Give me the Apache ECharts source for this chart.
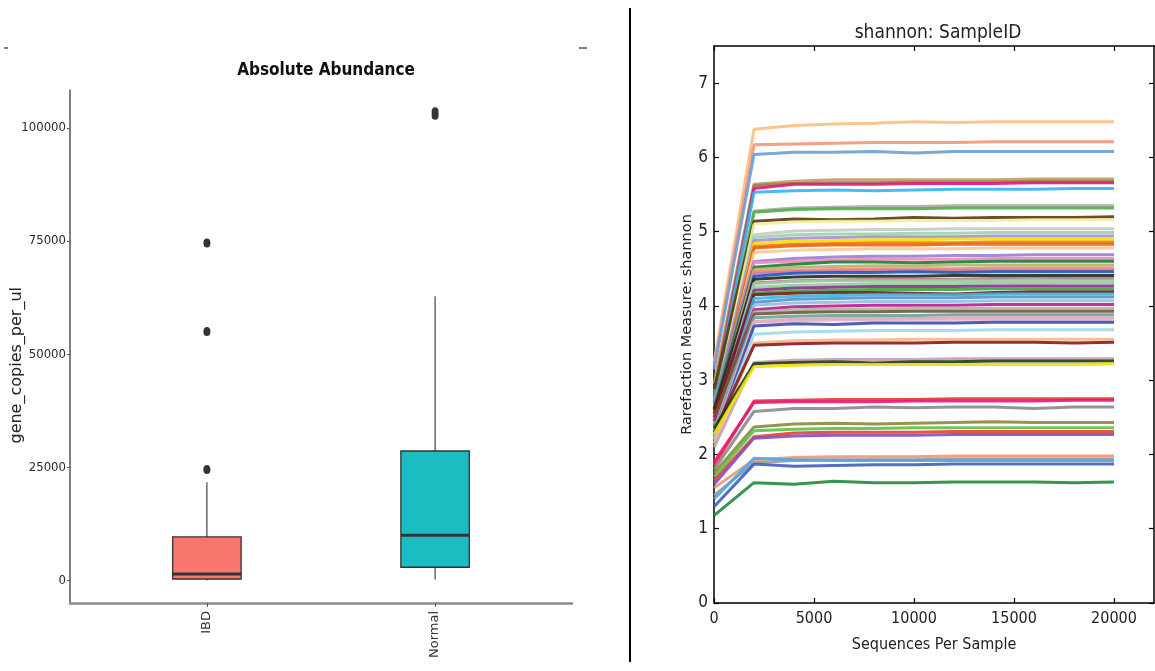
<!DOCTYPE html>
<html>
<head>
<meta charset="utf-8">
<script src="https://cdn.jsdelivr.net/npm/echarts@6/dist/echarts.min.js"></script>
<style>
html,body{margin:0;padding:0;background:#fff;}
#chart{width:1155px;height:671px;}
</style>
</head>
<body>
<div id="chart"></div>
<script>
// ---------- Left panel: Absolute Abundance (box plot) ----------
const boxCategories = ['IBD', 'Normal'];
// [min whisker, Q1, median, Q3, max whisker]
const ibdBox = [0, 300, 1400, 9600, 21700];
const normalBox = [200, 2900, 10000, 28600, 62800];
const ibdOutliers = [24500, 55000, 74600];
const normalOutliers = [102800, 103600];
const abundanceTicks = [0, 25000, 50000, 75000, 100000];

// ---------- Right panel: shannon rarefaction ----------
const depths = [10, 2000, 4000, 6000, 8000, 10000, 12000, 14000, 16000, 18000, 20000];
const depthTicks = [0, 5000, 10000, 15000, 20000];
const shannonTicks = [0, 1, 2, 3, 4, 5, 6, 7];
const shannonCurves = [
  [3.25, 6.38, 6.43, 6.45, 6.46, 6.48, 6.47, 6.48, 6.48, 6.48, 6.48],
  [3.20, 6.17, 6.18, 6.19, 6.20, 6.20, 6.20, 6.21, 6.21, 6.21, 6.21],
  [3.15, 6.04, 6.07, 6.07, 6.08, 6.06, 6.08, 6.08, 6.08, 6.08, 6.08],
  [2.95, 5.64, 5.68, 5.70, 5.70, 5.70, 5.70, 5.70, 5.71, 5.71, 5.71],
  [2.85, 5.62, 5.65, 5.66, 5.66, 5.67, 5.67, 5.67, 5.68, 5.68, 5.68],
  [2.80, 5.58, 5.64, 5.64, 5.64, 5.65, 5.65, 5.65, 5.66, 5.66, 5.66],
  [2.75, 5.53, 5.55, 5.56, 5.55, 5.56, 5.57, 5.57, 5.57, 5.58, 5.58],
  [2.70, 5.28, 5.32, 5.33, 5.34, 5.34, 5.35, 5.35, 5.35, 5.35, 5.35],
  [2.72, 5.26, 5.30, 5.31, 5.31, 5.31, 5.32, 5.32, 5.32, 5.32, 5.32],
  [2.88, 5.14, 5.17, 5.16, 5.17, 5.19, 5.18, 5.19, 5.19, 5.19, 5.20],
  [2.60, 5.10, 5.13, 5.14, 5.14, 5.15, 5.15, 5.15, 5.16, 5.16, 5.16],
  [2.62, 4.96, 5.01, 5.02, 5.03, 5.03, 5.04, 5.04, 5.04, 5.04, 5.04],
  [2.55, 4.92, 4.96, 4.97, 4.97, 4.98, 4.98, 4.99, 4.99, 4.99, 4.99],
  [2.66, 4.88, 4.91, 4.92, 4.93, 4.93, 4.93, 4.94, 4.94, 4.94, 4.94],
  [2.50, 4.84, 4.87, 4.88, 4.89, 4.89, 4.90, 4.90, 4.90, 4.90, 4.90],
  [2.60, 4.80, 4.83, 4.84, 4.85, 4.85, 4.85, 4.86, 4.86, 4.86, 4.86],
  [2.56, 4.78, 4.81, 4.82, 4.82, 4.82, 4.83, 4.83, 4.83, 4.83, 4.83],
  [2.48, 4.72, 4.75, 4.76, 4.77, 4.77, 4.77, 4.78, 4.78, 4.78, 4.78],
  [2.70, 4.60, 4.64, 4.66, 4.67, 4.67, 4.68, 4.68, 4.69, 4.69, 4.69],
  [2.54, 4.58, 4.60, 4.62, 4.63, 4.63, 4.63, 4.64, 4.64, 4.64, 4.64],
  [2.62, 4.52, 4.56, 4.59, 4.59, 4.58, 4.59, 4.60, 4.60, 4.60, 4.60],
  [2.45, 4.49, 4.52, 4.53, 4.54, 4.54, 4.55, 4.55, 4.55, 4.55, 4.55],
  [2.50, 4.46, 4.48, 4.49, 4.50, 4.50, 4.50, 4.51, 4.51, 4.51, 4.51],
  [2.48, 4.44, 4.46, 4.47, 4.48, 4.48, 4.48, 4.48, 4.48, 4.48, 4.48],
  [2.40, 4.40, 4.44, 4.45, 4.45, 4.46, 4.45, 4.46, 4.46, 4.46, 4.46],
  [2.60, 4.36, 4.39, 4.40, 4.40, 4.40, 4.41, 4.41, 4.41, 4.41, 4.41],
  [2.45, 4.31, 4.34, 4.35, 4.36, 4.36, 4.36, 4.37, 4.37, 4.37, 4.37],
  [2.42, 4.30, 4.33, 4.34, 4.34, 4.34, 4.34, 4.34, 4.35, 4.34, 4.34],
  [2.40, 4.25, 4.28, 4.29, 4.30, 4.30, 4.30, 4.31, 4.31, 4.31, 4.31],
  [2.50, 4.21, 4.24, 4.25, 4.26, 4.26, 4.26, 4.27, 4.27, 4.27, 4.27],
  [2.35, 4.17, 4.20, 4.21, 4.22, 4.22, 4.22, 4.23, 4.23, 4.23, 4.23],
  [2.55, 4.15, 4.17, 4.18, 4.18, 4.17, 4.16, 4.18, 4.19, 4.19, 4.19],
  [2.30, 4.10, 4.13, 4.14, 4.15, 4.15, 4.15, 4.16, 4.16, 4.16, 4.16],
  [2.35, 4.05, 4.09, 4.10, 4.11, 4.11, 4.11, 4.12, 4.12, 4.12, 4.12],
  [2.30, 4.01, 4.04, 4.05, 4.06, 4.06, 4.06, 4.07, 4.07, 4.07, 4.07],
  [2.45, 3.95, 3.99, 4.00, 4.01, 4.01, 4.01, 4.02, 4.02, 4.02, 4.02],
  [2.32, 3.92, 3.95, 3.96, 3.96, 3.97, 3.97, 3.97, 3.97, 3.97, 3.97],
  [2.50, 3.89, 3.91, 3.92, 3.92, 3.93, 3.93, 3.93, 3.93, 3.93, 3.93],
  [2.30, 3.84, 3.86, 3.87, 3.87, 3.87, 3.88, 3.88, 3.88, 3.88, 3.88],
  [2.25, 3.79, 3.82, 3.83, 3.83, 3.83, 3.84, 3.84, 3.84, 3.84, 3.84],
  [2.22, 3.78, 3.80, 3.81, 3.81, 3.82, 3.82, 3.82, 3.82, 3.82, 3.82],
  [2.20, 3.73, 3.76, 3.75, 3.77, 3.77, 3.77, 3.78, 3.78, 3.78, 3.78],
  [2.20, 3.62, 3.65, 3.66, 3.67, 3.67, 3.67, 3.68, 3.68, 3.68, 3.68],
  [2.15, 3.50, 3.53, 3.54, 3.54, 3.55, 3.55, 3.55, 3.55, 3.55, 3.55],
  [2.30, 3.47, 3.49, 3.50, 3.50, 3.50, 3.51, 3.51, 3.51, 3.50, 3.51],
  [2.10, 3.24, 3.27, 3.28, 3.28, 3.28, 3.29, 3.29, 3.29, 3.29, 3.29],
  [2.35, 3.22, 3.24, 3.25, 3.23, 3.25, 3.25, 3.26, 3.26, 3.26, 3.26],
  [2.28, 3.18, 3.20, 3.21, 3.21, 3.21, 3.21, 3.21, 3.21, 3.21, 3.22],
  [1.85, 2.72, 2.73, 2.74, 2.74, 2.74, 2.75, 2.75, 2.75, 2.75, 2.75],
  [1.90, 2.70, 2.71, 2.71, 2.71, 2.72, 2.72, 2.72, 2.72, 2.73, 2.73],
  [1.80, 2.58, 2.62, 2.62, 2.64, 2.63, 2.64, 2.64, 2.62, 2.64, 2.64],
  [1.75, 2.37, 2.41, 2.42, 2.41, 2.42, 2.43, 2.44, 2.43, 2.43, 2.43],
  [1.70, 2.32, 2.34, 2.35, 2.35, 2.36, 2.36, 2.36, 2.36, 2.36, 2.36],
  [1.65, 2.24, 2.29, 2.30, 2.30, 2.30, 2.31, 2.31, 2.31, 2.31, 2.31],
  [1.60, 2.22, 2.25, 2.26, 2.26, 2.26, 2.27, 2.27, 2.27, 2.27, 2.27],
  [1.55, 1.93, 1.96, 1.97, 1.97, 1.97, 1.98, 1.98, 1.98, 1.98, 1.98],
  [1.45, 1.89, 1.92, 1.93, 1.93, 1.93, 1.94, 1.94, 1.94, 1.94, 1.94],
  [1.40, 1.95, 1.93, 1.92, 1.92, 1.92, 1.92, 1.92, 1.92, 1.92, 1.92],
  [1.30, 1.87, 1.84, 1.85, 1.86, 1.86, 1.87, 1.87, 1.87, 1.87, 1.87],
  [1.18, 1.62, 1.60, 1.64, 1.62, 1.62, 1.63, 1.63, 1.63, 1.62, 1.63]
];

// ---------- styles ----------
const boxColors = ['#F8766D', '#1BBDC2'];
const curveColors = [
  '#fdbf7f', '#f4957a', '#6a9ed6', '#c29a6b', '#8f8a3c', '#e8157c', '#35b4ee', '#a9a9a9',
  '#4cb04a', '#5a3c12', '#f4eea0', '#c9c9c9', '#97d6a8', '#a58fd8', '#f2e000', '#f57c00',
  '#e8661c', '#fdc898', '#9a7ecf', '#f08cb6', '#1b7a3a', '#b4b46a', '#f28e6b', '#d87aa0',
  '#2256c4', '#1b2e1b', '#b07a8a', '#a6c8a0', '#8ed0a0', '#8e2a8e', '#3aa63a', '#7b1a1a',
  '#2fb8e6', '#5b8fc7', '#8fc0e0', '#c0188a', '#b0b0b0', '#6e5a32', '#6aa0a0', '#d4a8b8',
  '#e4b0c0', '#3a4db0', '#9fd9ea', '#f5b888', '#8b1a1a', '#c8a0a8', '#1e3a1e', '#f0e000',
  '#e53935', '#e8197a', '#8a8a8a', '#8c8a3a', '#5cc04a', '#e8402a', '#8050c0', '#f4937a',
  '#9a9a9a', '#4fa8e0', '#3f5fc0', '#1e8c3a'
];
const COND = '"DejaVu Sans Condensed", "Liberation Sans Narrow", "DejaVu Sans", sans-serif';
const WIDE = '"DejaVu Sans", sans-serif';
const plain = v => String(v);

const chart = echarts.init(document.getElementById('chart'), null, {renderer: 'canvas'});

const boxData = [[1].concat(ibdBox), [2].concat(normalBox)];
const outlierData = ibdOutliers.map(v => [1, v]).concat(normalOutliers.map(v => [2, v]));

function renderBox(params, api) {
  const x = api.value(0);
  const lo = api.coord([x, api.value(1)]);
  const q1 = api.coord([x, api.value(2)]);
  const med = api.coord([x, api.value(3)]);
  const q3 = api.coord([x, api.value(4)]);
  const hi = api.coord([x, api.value(5)]);
  const w = api.size([0.3, 0])[0];
  const fill = boxColors[params.dataIndex];
  const stroke = '#333333';
  return {
    type: 'group',
    children: [
      {type: 'line', shape: {x1: lo[0], y1: lo[1], x2: q1[0], y2: q1[1]}, style: {stroke: stroke, lineWidth: 1.1}},
      {type: 'line', shape: {x1: q3[0], y1: q3[1], x2: hi[0], y2: hi[1]}, style: {stroke: stroke, lineWidth: 1.1}},
      {type: 'rect', shape: {x: q3[0] - w / 2, y: q3[1], width: w, height: q1[1] - q3[1]},
        style: {fill: fill, stroke: stroke, lineWidth: 1.3}},
      {type: 'line', shape: {x1: med[0] - w / 2, y1: med[1], x2: med[0] + w / 2, y2: med[1]},
        style: {stroke: stroke, lineWidth: 3}}
    ]
  };
}

const lineSeries = shannonCurves.map((vals, i) => ({
  type: 'line',
  xAxisIndex: 1,
  yAxisIndex: 1,
  data: depths.map((d, j) => [d, vals[j]]),
  showSymbol: false,
  symbol: 'none',
  lineStyle: {color: curveColors[i % curveColors.length], width: 3, opacity: 0.9},
  itemStyle: {color: curveColors[i % curveColors.length]},
  silent: true,
  animation: false,
  z: 2
}));

const option = {
  backgroundColor: '#ffffff',
  animation: false,
  title: [
    {text: 'Absolute Abundance', left: 321, top: 57, textAlign: 'center',
      textStyle: {fontFamily: COND, fontSize: 17, fontWeight: 'bold', color: '#111'}},
    {text: 'shannon: SampleID', left: 933, top: 19, textAlign: 'center',
      textStyle: {fontFamily: COND, fontSize: 19, fontWeight: 'normal', color: '#222'}}
  ],
  grid: [
    {left: 70, top: 90, width: 502, height: 513, outerBoundsMode: 'none', containLabel: false},
    {left: 714, top: 46, width: 440, height: 557, outerBoundsMode: 'none', containLabel: false}
  ],
  xAxis: [
    {
      type: 'value', gridIndex: 0, min: 0.4, max: 2.6,
      axisLine: {show: true, onZero: false, lineStyle: {color: '#8a8a8a', width: 2.5}},
      axisTick: {show: true, customValues: [1, 2], length: 4, lineStyle: {color: '#555', width: 1}},
      axisLabel: {show: true, customValues: [1, 2], rotate: 90, margin: 8,
        formatter: v => boxCategories[Math.round(v) - 1] || '',
        fontFamily: WIDE, fontSize: 13, color: '#333'},
      splitLine: {show: false}
    },
    {
      type: 'value', gridIndex: 1, min: 0, max: 22000, position: 'bottom',
      name: 'Sequences Per Sample', nameLocation: 'middle', nameGap: 34,
      nameTextStyle: {fontFamily: COND, fontSize: 16, color: '#222'},
      axisLine: {show: true, onZero: false, lineStyle: {color: '#000', width: 1.5}},
      axisTick: {show: true, inside: true, customValues: depthTicks, length: 5, lineStyle: {color: '#000', width: 1.2}},
      axisLabel: {show: true, customValues: depthTicks, margin: 8, formatter: plain, fontFamily: COND, fontSize: 16, color: '#222'},
      splitLine: {show: false}
    },
    {
      type: 'value', gridIndex: 1, min: 0, max: 22000, position: 'top',
      axisLine: {show: true, onZero: false, lineStyle: {color: '#000', width: 1.5}},
      axisTick: {show: true, inside: true, customValues: depthTicks, length: 5, lineStyle: {color: '#000', width: 1.2}},
      axisLabel: {show: false},
      splitLine: {show: false}
    }
  ],
  yAxis: [
    {
      type: 'value', gridIndex: 0, min: -5000, max: 108400,
      axisLine: {show: true, onZero: false, lineStyle: {color: '#555', width: 1.5}},
      axisTick: {show: true, customValues: abundanceTicks, length: 3, lineStyle: {color: '#555', width: 1}},
      axisLabel: {show: true, customValues: abundanceTicks, margin: 4, formatter: plain, fontFamily: COND, fontSize: 13, color: '#2a2a2a'},
      splitLine: {show: false}
    },
    {
      type: 'value', gridIndex: 1, min: 0, max: 7.5, position: 'left',
      name: 'Rarefaction Measure: shannon', nameLocation: 'middle', nameGap: 18,
      nameTextStyle: {fontFamily: WIDE, fontSize: 14.5, color: '#222'},
      axisLine: {show: true, onZero: false, lineStyle: {color: '#000', width: 1.5}},
      axisTick: {show: true, inside: true, customValues: shannonTicks, length: 5, lineStyle: {color: '#000', width: 1.2}},
      axisLabel: {show: true, customValues: shannonTicks, margin: 6, formatter: plain, fontFamily: COND, fontSize: 17, color: '#222'},
      splitLine: {show: false}
    },
    {
      type: 'value', gridIndex: 1, min: 0, max: 7.5, position: 'right',
      axisLine: {show: true, onZero: false, lineStyle: {color: '#000', width: 1.5}},
      axisTick: {show: true, inside: true, customValues: shannonTicks, length: 5, lineStyle: {color: '#000', width: 1.2}},
      axisLabel: {show: false},
      splitLine: {show: false}
    }
  ],
  graphic: [
    {type: 'text', left: 9, top: 287, rotation: Math.PI / 2,
      style: {text: 'gene_copies_per_ul', fontFamily: WIDE, fontSize: 16, fill: '#222'}, z: 10},
    {type: 'line', shape: {x1: 630, y1: 8, x2: 630, y2: 662}, style: {stroke: '#000', lineWidth: 2}, z: 10},
    {type: 'line', shape: {x1: 4, y1: 48, x2: 8, y2: 48}, style: {stroke: '#000', lineWidth: 1}, z: 10},
    {type: 'line', shape: {x1: 579, y1: 48, x2: 587, y2: 48}, style: {stroke: '#000', lineWidth: 1}, z: 10}
  ],
  series: [
    {
      type: 'custom', xAxisIndex: 0, yAxisIndex: 0,
      renderItem: renderBox,
      encode: {x: 0, y: [1, 2, 3, 4, 5]},
      data: boxData, silent: true, z: 3
    },
    {
      type: 'scatter', xAxisIndex: 0, yAxisIndex: 0,
      data: outlierData, symbol: 'circle', symbolSize: [7, 9],
      itemStyle: {color: '#333', opacity: 1}, silent: true, z: 4
    }
  ].concat(lineSeries)
};

chart.setOption(option);
</script>
</body>
</html>
